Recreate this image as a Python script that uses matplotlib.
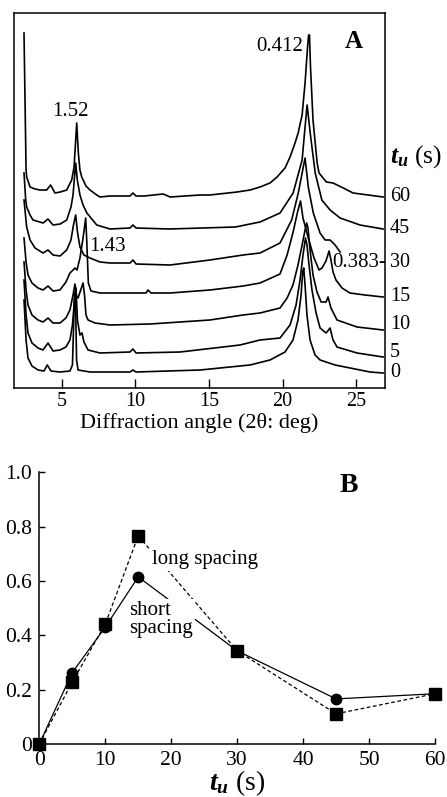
import matplotlib
matplotlib.use('Agg')
import matplotlib.pyplot as plt
from matplotlib.transforms import blended_transform_factory

plt.rcParams['font.family'] = ['Liberation Serif', 'DejaVu Serif']
plt.rcParams['mathtext.fontset'] = 'custom'
plt.rcParams['mathtext.it'] = 'Liberation Serif:italic:bold'
plt.rcParams['mathtext.rm'] = 'Liberation Serif'

# ---- panel A: XRD traces, angle (deg) vs intensity above each trace's baseline
TIMES = ['60', '45', '30', '15', '10', '5', '0']
BASELINE = [191, 159, 125, 91, 63, 35, 15]

ANG_60 = [2.44, 2.58, 2.62, 2.76, 2.85, 3.19, 3.53, 3.98, 4.25, 4.54, 4.90, 5.34, 5.68, 5.84, 6.02, 6.13, 6.24, 6.36,
          6.65, 6.92, 7.38, 7.60, 8.28, 9.64, 9.84, 10.05, 10.60, 11.90, 12.36, 14.39, 15.07, 16.91, 17.80, 18.47,
          19.15, 19.63, 20.17, 20.51, 20.85, 21.06, 21.33, 21.53, 21.70, 21.77, 21.83, 21.90, 22.07, 22.35, 22.48,
          22.98, 23.43, 24.13, 24.79, 26.83]
INT_60 = [164, 27, 20, 14, 10, 8, 7, 7, 12, 4, 5, 7, 17, 30, 74, 44, 27, 20,
          11, 7, 2, 0, 1, 1, 4, 1, 1, 3, 0, 2, 2, 5, 7, 10,
          14, 20, 29, 40, 54, 64, 82, 114, 150, 162, 162, 130, 77, 34, 24,
          15, 14, 9, 4, 0]

ANG_45 = [2.44, 2.55, 2.62, 2.85, 3.05, 3.74, 4.07, 4.41, 4.90, 5.34, 5.63, 5.77, 5.95, 6.06, 6.24, 6.45, 6.71, 7.38,
          8.28, 9.64, 9.84, 10.05, 12.30, 16.80, 18.47, 19.83, 20.72, 21.33, 21.53, 21.67, 21.88, 22.22, 22.67, 23.23,
          23.91, 25.26, 26.83]
INT_45 = [56, 30, 22, 14, 9, 6, 10, 4, 5, 9, 22, 34, 66, 49, 34, 24, 16, 4,
          0, 1, 4, 1, 0, 2, 7, 16, 36, 69, 102, 124, 96, 56, 29, 19,
          11, 4, 0]

ANG_30 = [2.44, 2.62, 2.85, 3.19, 3.73, 4.07, 4.41, 4.88, 5.34, 5.63, 5.80, 5.95, 6.07, 6.24, 6.51, 6.92, 7.60, 8.28,
          9.64, 9.84, 10.05, 12.36, 15.07, 17.32, 18.47, 19.83, 20.62, 21.07, 21.41, 21.53, 21.75, 22.09, 22.55, 22.89,
          23.23, 23.57, 23.91]
INT_30 = [63, 36, 23, 15, 10, 13, 8, 7, 13, 23, 38, 48, 31, 16, 8, 5, 1, 0,
          0, 3, -1, -2, 3, 8, 10, 20, 43, 70, 96, 105, 76, 50, 30, 23,
          23, 18, 11]

ANG_15 = [2.44, 2.58, 2.71, 2.98, 3.39, 3.73, 4.07, 4.41, 4.88, 5.29, 5.56, 5.77, 5.90, 6.04, 6.24, 6.45, 6.63, 6.70,
          6.81, 6.99, 7.60, 8.96, 10.73, 10.86, 11.07, 12.36, 15.07, 17.33, 18.47, 19.83, 20.31, 20.72, 21.02, 21.22,
          21.39, 21.73, 22.14, 22.48, 22.68, 22.95, 23.16, 23.29, 23.43, 23.63, 24.04, 24.58, 25.60, 26.83]
INT_15 = [59, 35, 22, 14, 9, 7, 11, 6, 7, 15, 24, 27, 29, 27, 39, 59, 79, 57,
          14, 6, 4, 4, 4, 7, 4, 4, 7, 11, 14, 23, 42, 65, 85, 96,
          79, 60, 39, 27, 29, 36, 46, 37, 25, 17, 9, 4, 2, 0]

ANG_10 = [2.44, 2.58, 2.71, 2.98, 3.39, 3.73, 4.07, 4.41, 4.88, 5.29, 5.56, 5.77, 5.90, 6.01, 6.11, 6.45, 6.55, 6.65,
          6.79, 7.26, 8.28, 11.00, 15.07, 17.32, 18.47, 19.83, 20.31, 20.71, 21.05, 21.33, 21.53, 21.64, 21.73, 21.87,
          22.07, 22.34, 22.62, 22.96, 23.09, 23.29, 23.70, 25.06, 26.83]
INT_10 = [63, 35, 20, 10, 5, 3, 7, 2, 2, 7, 15, 30, 41, 29, 27, 42, 30, 10,
          5, 2, 0, 1, 5, 10, 12, 17, 27, 40, 60, 80, 95, 102, 97, 75,
          50, 33, 23, 23, 28, 17, 5, -2, -5]

ANG_5 = [2.44, 2.58, 2.71, 2.98, 3.39, 3.73, 4.07, 4.41, 4.88, 5.29, 5.56, 5.73, 5.87, 5.97, 6.07, 6.24, 6.38, 6.51,
         6.79, 7.60, 9.64, 9.84, 10.05, 13.04, 17.11, 18.47, 19.83, 20.51, 20.92, 21.19, 21.39, 21.56, 21.66, 21.80,
         22.00, 22.28, 22.55, 22.96, 23.23, 23.43, 23.70, 25.06, 26.83]
INT_5 = [73, 38, 20, 10, 5, 3, 10, 2, 3, 6, 13, 28, 53, 65, 33, 18, 20, 11,
         3, 0, 1, 4, 0, 1, 8, 13, 15, 28, 48, 73, 98, 115, 108, 88,
         63, 40, 25, 20, 25, 13, 6, 0, -4]

ANG_0 = [2.44, 2.58, 2.71, 2.98, 3.39, 3.80, 4.02, 4.27, 4.88, 5.56, 5.73, 5.80, 5.87, 5.94, 6.01, 6.11, 6.92, 9.64,
         9.84, 10.05, 14.40, 17.79, 19.15, 20.17, 20.71, 21.05, 21.26, 21.37, 21.44, 21.53, 21.66, 21.87, 22.21,
         22.55, 23.57, 25.27, 25.94, 26.83]
INT_0 = [73, 33, 15, 7, 3, 2, 8, 2, 1, 2, 8, 43, 81, 73, 13, 3, 1, 1,
         3, 1, 3, 8, 13, 21, 33, 53, 78, 101, 105, 88, 58, 33, 18,
         13, 8, 3, 1, 0]

ANGLES = [ANG_60, ANG_45, ANG_30, ANG_15, ANG_10, ANG_5, ANG_0]
INTENS = [INT_60, INT_45, INT_30, INT_15, INT_10, INT_5, INT_0]
A_XTICKS = [5, 10, 15, 20, 25]

# ---- panel B: relative amount vs t_u
TU = [0, 5, 10, 15, 30, 45, 60]
SHORT_SP = [0.0, 0.263, 0.43, 0.615, 0.343, 0.166, 0.185]
LONG_SP = [0.0, 0.228, 0.441, 0.766, 0.343, 0.111, 0.185]

fig = plt.figure(figsize=(4.47, 7.97), dpi=100)

# panel A
axA = fig.add_axes([14/447, 1-388/797, 371/447, 375/797])
for ang, inten, base in zip(ANGLES, INTENS, BASELINE):
    axA.plot(ang, [base + v for v in inten], color='black', lw=1.2, solid_joinstyle='round')
axA.set_xlim(1.76, 26.96)
axA.set_ylim(0, 375)
axA.set_yticks([])
axA.set_xticks(A_XTICKS)
axA.tick_params(axis='x', direction='in', length=6.5, width=1.0, labelsize=14.5, pad=3)
for s in axA.spines.values():
    s.set_linewidth(1.1)
axA.set_xlabel('Diffraction angle (2θ: deg)', fontsize=16, labelpad=1)

tr = blended_transform_factory(axA.transAxes, axA.transData)
for lab, base in zip(TIMES, BASELINE):
    axA.text(1.013, base, lab, transform=tr, fontsize=14.5, ha='left', va='center')
axA.text(1.013, 231, r'$t_u$ (s)', transform=tr, fontsize=18.5, ha='left', va='center')

axA.text(5.56, 276, '1.52', fontsize=15, ha='center', va='center')
axA.text(8.08, 141, '1.43', fontsize=15, ha='center', va='center')
axA.text(19.84, 341, '0.412', fontsize=15, ha='center', va='center')
axA.text(23.35, 125, '0.383-', fontsize=15, ha='left', va='center')
axA.text(24.84, 346, 'A', fontsize=18, fontweight='bold', ha='center', va='center')

# panel B
axB = fig.add_axes([39.3/447, 1-744/797, 395.7/447, 271.7/797])
axB.plot(TU, LONG_SP, color='black', lw=0.9, ls=(0, (3, 2)), marker='s', ms=8,
         mfc='black', mec='black', clip_on=False, zorder=3)
axB.plot(TU, SHORT_SP, color='black', lw=0.9, ls='-', marker='o', ms=7.5,
         mfc='black', mec='black', clip_on=False, zorder=3)
axB.set_xlim(0, 60)
axB.set_ylim(0, 1.0)
axB.set_xticks([0, 10, 20, 30, 40, 50, 60])
axB.set_yticks([0, 0.2, 0.4, 0.6, 0.8, 1.0])
axB.set_yticklabels(['0', '0.2', '0.4', '0.6', '0.8', '1.0'])
axB.tick_params(direction='in', length=4, width=1.0, labelsize=15.5, pad=5)
axB.spines['top'].set_visible(False)
axB.spines['right'].set_visible(False)
for s in ('left', 'bottom'):
    axB.spines[s].set_linewidth(1.1)
axB.set_xlabel(r'$t_u$ (s)', fontsize=20, labelpad=-1)

wb = dict(facecolor='white', edgecolor='none', pad=1.5)
axB.text(17.1, 0.68, 'long spacing', fontsize=15, ha='left', va='center', bbox=wb, zorder=4)
axB.text(13.6, 0.457, 'short\nspacing', fontsize=15, ha='left', va='center', linespacing=0.95,
         bbox=wb, zorder=4)
axB.text(46.9, 0.95, 'B', fontsize=20, fontweight='bold', ha='center', va='center')

fig.savefig('out.png', dpi=100)
